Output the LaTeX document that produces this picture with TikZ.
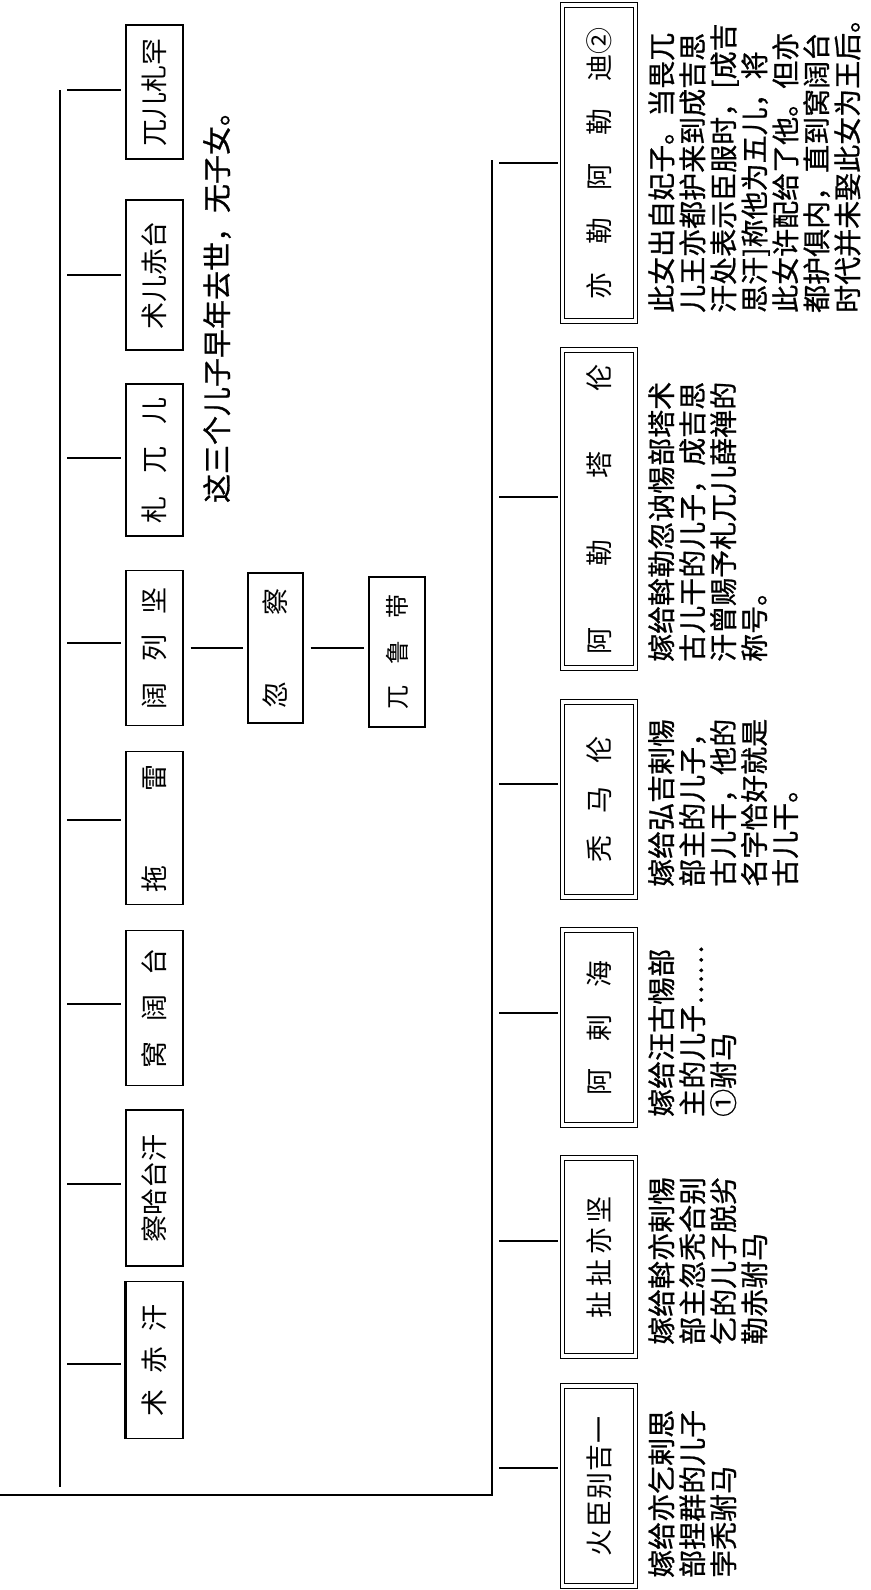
\documentclass[tikz,border=0pt]{standalone}
\usepackage{fontspec}
\setmainfont{Noto Sans CJK SC}
\newfontfamily\heavyfont{Noto Sans CJK SC}[FakeBold=0.8]
\newcommand\spreadbox[2]{\hbox to #1{#2}}
\begin{document}
\begin{tikzpicture}[x=1pt,y=-1pt,
  sonbox/.style={draw, line width=1.2pt, rotate=90, inner sep=0pt, minimum height=57pt, font=\fontsize{27}{27}\selectfont},
  daubox/.style={draw, double, double distance=3.5pt, line width=1pt, rotate=90, inner sep=0pt, minimum height=73pt, font=\fontsize{27}{27}\selectfont},
  descr/.style={rotate=90, anchor=north west, inner sep=0pt, align=left, font=\heavyfont\fontsize{28}{31}\selectfont},
  note/.style={rotate=90, inner sep=0pt, font=\heavyfont\fontsize{29}{29}\selectfont},
  link/.style={line width=1.6pt, shorten <=7pt, shorten >=4pt},
  trunk/.style={line width=1.8pt}]
\useasboundingbox (0,0) rectangle (870,1590);

% ---------- sons ----------
\node[sonbox, minimum width=157pt] (s1) at (154.5,1360) {\spreadbox{112pt}{术\hfill 赤\hfill 汗}};
\node[sonbox, minimum width=156pt] (s2) at (154.5,1188) {察哈台汗};
\node[sonbox, minimum width=155pt] (s3) at (154.5,1008) {\spreadbox{120pt}{窝\hfill 阔\hfill 台}};
\node[sonbox, minimum width=153pt] (s4) at (154.5,828) {\spreadbox{128pt}{拖\hfill 雷}};
\node[sonbox, minimum width=155pt] (s5) at (154.5,648) {\spreadbox{122pt}{阔\hfill 列\hfill 坚}};
\node[sonbox, minimum width=152pt] (s6) at (154.5,460) {\spreadbox{126pt}{札\hfill 兀\hfill 儿}};
\node[sonbox, minimum width=150pt] (s7) at (154.5,275) {术儿赤台};
\node[sonbox, minimum width=134pt] (s8) at (154.5,92) {兀儿札罕};
\draw[line width=3pt] (s1.north west) -- (s1.north east);

\node[note] (n1) at (217,300) {这三个儿子早年去世，无子女。};

% grandson and great-grandson
\node[sonbox, minimum height=55pt, minimum width=150pt] (hc) at (275.5,648) {\spreadbox{120pt}{忽\hfill 察}};
\node[sonbox, minimum height=56pt, minimum width=150pt, font=\fontsize{24}{24}\selectfont] (wl) at (397,652) {\spreadbox{115pt}{兀\hfill 鲁\hfill 带}};

% sons' trunk and links
\coordinate (stop) at (60,90);
\coordinate (sbot) at (60,1487);
\draw[trunk] (stop) -- (sbot);
\coordinate (t1) at (60,1364);
\coordinate (t2) at (60,1184);
\coordinate (t3) at (60,1004);
\coordinate (t4) at (60,820);
\coordinate (t5) at (60,643);
\coordinate (t6) at (60,458);
\coordinate (t7) at (60,275);
\coordinate (t8) at (60,90);
\foreach \i in {1,...,8} {\draw[link] (t\i) -- (t\i -| s\i.north);}
\draw[link] (s5.south |- hc.north) -- (hc.north);
\draw[link] (hc.south) -- (wl.north |- hc.south);

% ---------- daughters ----------
\node[daubox, minimum width=200pt] (d1) at (599,1486) {\spreadbox{140pt}{火\hfill 臣\hfill 别\hfill 吉\hfill 一}};
\node[daubox, minimum width=198pt] (d2) at (599,1257) {\spreadbox{122pt}{扯\hfill 扯\hfill 亦\hfill 坚}};
\node[daubox, minimum width=195pt] (d3) at (599,1027.5) {\spreadbox{135pt}{阿\hfill 剌\hfill 海}};
\node[daubox, minimum width=195pt] (d4) at (599,799.5) {\spreadbox{126pt}{秃\hfill 马\hfill 伦}};
\node[daubox, minimum width=318pt] (d5) at (599,509) {\spreadbox{290pt}{阿\hfill 勒\hfill 塔\hfill 伦}};
\node[daubox, minimum width=316pt] (d6) at (599,163) {\spreadbox{272pt}{亦\hfill 勒\hfill 阿\hfill 勒\hfill 迪②}};

\node[descr] (e1) at (648,1578) {嫁给亦乞剌思\\部捏群的儿子\\孛秃驸马};
\node[descr] (e2) at (648,1345) {嫁给斡亦剌惕\\部主忽秃合别\\乞的儿子脱劣\\勒赤驸马};
\node[descr] (e3) at (648,1117) {嫁给汪古惕部\\主的儿子……\\①驸马};
\node[descr] (e4) at (648,887) {嫁给弘吉剌惕\\部主的儿子，\\古儿干，他的\\名字恰好就是\\古儿干。};
\node[descr] (e5) at (648,662) {嫁给斡勒忽讷惕部塔术\\古儿干的儿子，成吉思\\汗曾赐予札兀儿薛禅的\\称号。};
\node[descr] (e6) at (648,313) {此女出自妃子。当畏兀\\儿王亦都护来到成吉思\\汗处表示臣服时，[成吉\\思汗]称他为五儿，将\\此女许配给了他。但亦\\都护俱内，直到窝阔台\\时代并未娶此女为王后。};

% daughters' trunk, bottom line and links
\coordinate (b0) at (0,1495);
\coordinate (b1) at (492,1495);
\coordinate (dtop) at (492,160);
\draw[trunk] (b0) -- (b1) -- (dtop);
\coordinate (u1) at (492,1468);
\coordinate (u2) at (492,1241);
\coordinate (u3) at (492,1013);
\coordinate (u4) at (492,784);
\coordinate (u5) at (492,497);
\coordinate (u6) at (492,163);
\foreach \i in {1,...,6} {\draw[link] (u\i) -- (u\i -| d\i.north);}
\end{tikzpicture}
\end{document}
